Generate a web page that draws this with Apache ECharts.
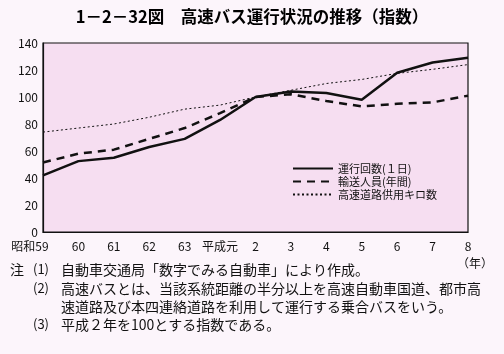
<!DOCTYPE html>
<html><head><meta charset="utf-8">
<script src="https://cdn.jsdelivr.net/npm/echarts@6/dist/echarts.min.js"></script>
<style>html,body{margin:0;padding:0;background:#fcf5fb;}#c{width:504px;height:354px;}</style>
</head><body><div id="c"></div>
<script>
const categories = ['昭和59','60','61','62','63','平成元','2','3','4','5','6','7','8'];
const runs = [42, 52.5, 55, 63, 69, 83, 100, 104, 103, 98, 118, 125.5, 129];
const passengers = [51.5, 58, 61, 69, 77, 88, 100, 102, 97, 93, 95, 96, 101];
const roadKm = [74, 77, 80, 85, 91, 94, 100, 105, 110, 113, 117.5, 120.5, 124];
const yTicks = [0, 20, 40, 60, 80, 100, 120, 140];
const seriesNames = ['運行回数(１日)', '輸送人員(年間)', '高速道路供用キロ数'];
const notes = [
  ['注', '(1)', '自動車交通局「数字でみる自動車」により作成。'],
  ['', '(2)', '高速バスとは、当該系統距離の半分以上を高速自動車国道、都市高'],
  ['', '', '速道路及び本四連絡道路を利用して運行する乗合バスをいう。'],
  ['', '(3)', '平成２年を100とする指数である。']
];

const chart = echarts.init(document.getElementById('c'));
const font = '"Noto Sans CJK JP", sans-serif';
const noteY = [271, 290, 308, 326];
const graphics = [];
notes.forEach((n, i) => {
  if (n[0]) graphics.push({type:'text', left: 10, top: noteY[i]-8, style:{text:n[0], font:'14px ' + font, fill:'#111'}});
  if (n[1]) graphics.push({type:'text', left: 33, top: noteY[i]-8, style:{text:n[1], font:'13px ' + font, fill:'#111'}});
  graphics.push({type:'text', left: 61, top: noteY[i]-8, style:{text:n[2], font:'14px ' + font, fill:'#111'}});
});
graphics.push({type:'text', left: 457, top: 257, style:{text:'（年）', font:'12px ' + font, fill:'#111'}});

chart.setOption({
  backgroundColor: '#fcf5fb',
  animation: false,
  title: {
    text: '1－2－32図　高速バス運行状況の推移（指数）',
    left: 'center', top: 3,
    textStyle: {fontFamily: font, fontSize: 16.5, fontWeight: 'bold', color: '#000'}
  },
  grid: {left: 43, top: 43, right: 36, bottom: 122, show: true, borderColor: '#111', borderWidth: 1.2, backgroundColor: '#f6def1'},
  legend: {
    orient: 'vertical', left: 287, top: 158, itemGap: 2, itemWidth: 40, itemHeight: 10,
    itemStyle: {opacity: 0},
    textStyle: {fontFamily: font, fontSize: 11, color: '#111'},
    data: seriesNames
  },
  xAxis: {
    type: 'category', data: categories, boundaryGap: false,
    axisLine: {lineStyle: {color: '#111', width: 1.2}}, axisTick: {show: false},
    axisLabel: {
      color: '#111', fontFamily: font, fontSize: 12, margin: 8, interval: 0,
      formatter: (v, i) => i === 0 ? '{p|' + v + '}' : v,
      rich: {p: {fontFamily: font, fontSize: 12, color: '#111', padding: [0, 26, 0, 0]}}
    },
    splitLine: {show: false}
  },
  yAxis: {
    type: 'value', min: 0, max: 140, interval: 20,
    axisLine: {show: true, lineStyle: {color: '#111', width: 1.2}}, axisTick: {show: false},
    axisLabel: {color: '#111', fontFamily: font, fontSize: 12, margin: 5,
      formatter: v => yTicks.includes(v) ? String(v) : ''},
    splitLine: {show: false}
  },
  series: [
    {name: seriesNames[0], type: 'line', data: runs, symbol: 'none',
     lineStyle: {color: '#111', width: 2.5, type: 'solid'}, itemStyle: {color: '#111'}},
    {name: seriesNames[1], type: 'line', data: passengers, symbol: 'none',
     lineStyle: {color: '#111', width: 2.5, type: [8, 6]}, itemStyle: {color: '#111'}},
    {name: seriesNames[2], type: 'line', data: roadKm, symbol: 'none',
     lineStyle: {color: '#111', width: 1, type: [2, 2.5]}, itemStyle: {color: '#111'}}
  ],
  graphic: graphics
});
</script></body></html>
